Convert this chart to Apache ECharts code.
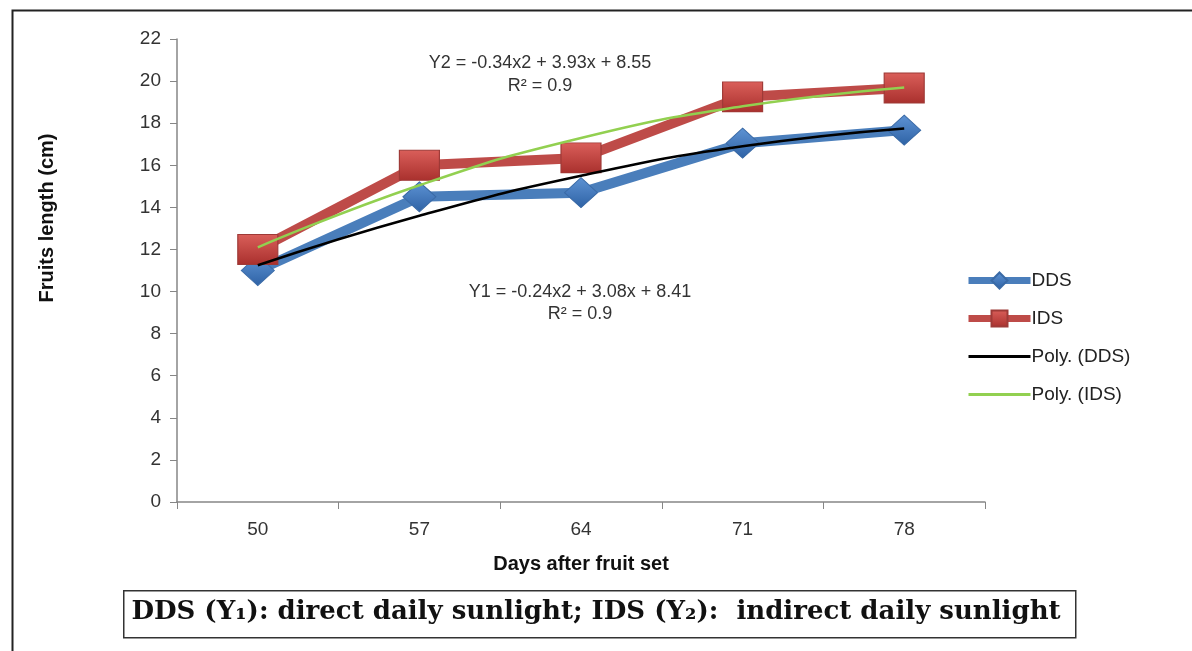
<!DOCTYPE html>
<html><head><meta charset="utf-8">
<script src="https://cdn.jsdelivr.net/npm/echarts@6/dist/echarts.min.js"></script>
<style>html,body{margin:0;padding:0;background:#fff}#c{width:1192px;height:651px}</style>
</head><body><div id="c"></div>
<script>
const days = ['50', '57', '64', '71', '78'];
const dds = [11.0, 14.5, 14.7, 17.05, 17.67];
const ids = [12.0, 16.0, 16.35, 19.25, 19.67];
const polyDds = [11.25, 13.6, 15.5, 16.9, 17.75];
const polyIds = [12.1, 15.05, 17.3, 18.8, 19.7];
const yTicks = { min: 0, max: 22, interval: 2 };

const chart = echarts.init(document.getElementById('c'), null, { renderer: 'canvas' });
const font = 'Liberation Sans, Arial, sans-serif';
const blueGrad = new echarts.graphic.LinearGradient(0, 0, 0, 1, [{ offset: 0, color: '#5E93D4' }, { offset: 1, color: '#2E62A5' }]);
const redGrad = new echarts.graphic.LinearGradient(0, 0, 0, 1, [{ offset: 0, color: '#DA5F5A' }, { offset: 1, color: '#A9302D' }]);
chart.setOption({
  animation: false,
  backgroundColor: '#fff',
  grid: { left: 177, right: 207, top: 39, bottom: 149 },
  legend: {
    orient: 'vertical', left: 960, top: 266, itemGap: 19,
    itemWidth: 62, itemHeight: 20,
    textStyle: { fontFamily: font, fontSize: 19, color: '#222', padding: [0, 0, 0, -4] },
    data: [
      { name: 'DDS', lineStyle: { width: 7 } },
      { name: 'IDS', lineStyle: { width: 7 } },
      { name: 'Poly. (DDS)', itemStyle: { opacity: 0 }, lineStyle: { width: 3 } },
      { name: 'Poly. (IDS)', itemStyle: { opacity: 0 }, lineStyle: { width: 3 } }
    ]
  },
  xAxis: {
    type: 'category', data: days, boundaryGap: true,
    name: 'Days after fruit set', nameLocation: 'middle', nameGap: 52,
    nameTextStyle: { fontFamily: font, fontSize: 20, fontWeight: 'bold', color: '#111' },
    axisLine: { lineStyle: { color: '#868686', width: 1.5 } },
    axisTick: { show: true, alignWithLabel: false, length: 7, lineStyle: { color: '#868686' } },
    axisLabel: { fontFamily: font, fontSize: 19, color: '#333', margin: 18 }
  },
  yAxis: {
    type: 'value', min: yTicks.min, max: yTicks.max, interval: yTicks.interval,
    splitLine: { show: false },
    axisLine: { show: true, lineStyle: { color: '#868686', width: 1.5 } },
    axisTick: { show: true, length: 7, lineStyle: { color: '#868686' } },
    axisLabel: { fontFamily: font, fontSize: 19, color: '#333', margin: 16 }
  },
  graphic: [
    { type: 'rect', left: 10, top: 8, shape: { width: 1250, height: 700 }, style: { fill: 'none', stroke: '#222', lineWidth: 2 }, z: 0, silent: true },
    { type: 'text', x: 47, y: 218, rotation: Math.PI / 2, style: { text: 'Fruits length (cm)', fontFamily: font, fontSize: 20, fontWeight: 'bold', fill: '#111', align: 'center', verticalAlign: 'middle' } },
    { type: 'text', x: 540, y: 63, style: { text: 'Y2 = -0.34x2 + 3.93x + 8.55', fontFamily: font, fontSize: 18, fill: '#333', align: 'center', verticalAlign: 'middle' } },
    { type: 'text', x: 540, y: 86, style: { text: 'R² = 0.9', fontFamily: font, fontSize: 18, fill: '#333', align: 'center', verticalAlign: 'middle' } },
    { type: 'text', x: 580, y: 292, style: { text: 'Y1 = -0.24x2 + 3.08x + 8.41', fontFamily: font, fontSize: 18, fill: '#333', align: 'center', verticalAlign: 'middle' } },
    { type: 'text', x: 580, y: 314, style: { text: 'R² = 0.9', fontFamily: font, fontSize: 18, fill: '#333', align: 'center', verticalAlign: 'middle' } },
    { type: 'rect', left: 123, top: 590, shape: { width: 952, height: 47 }, style: { fill: '#fff', stroke: '#333', lineWidth: 1.5 } },
    { type: 'text', x: 596, y: 612, style: { text: 'DDS (Y\u2081): direct daily sunlight; IDS (Y\u2082):  indirect daily sunlight', fontFamily: 'DejaVu Serif, Liberation Serif, serif', fontSize: 26, fontWeight: 'bold', fill: '#111', align: 'center', verticalAlign: 'middle' } }
  ],
  series: [
    {
      name: 'DDS', type: 'line', data: dds, symbol: 'diamond', symbolSize: [33, 30],
      lineStyle: { color: '#4A7EBB', width: 10 },
      itemStyle: { color: blueGrad, borderColor: '#3A6AA6', borderWidth: 1 },
      color: '#4A7EBB', z: 2
    },
    {
      name: 'IDS', type: 'line', data: ids, symbol: 'rect', symbolSize: [40, 30],
      lineStyle: { color: '#BE4B48', width: 10 },
      itemStyle: { color: redGrad, borderColor: '#9E3A37', borderWidth: 1 },
      color: '#BE4B48', z: 2
    },
    {
      name: 'Poly. (DDS)', type: 'line', data: polyDds, smooth: true, symbol: 'none',
      lineStyle: { color: '#000', width: 2.5 }, itemStyle: { color: '#000' }, z: 3
    },
    {
      name: 'Poly. (IDS)', type: 'line', data: polyIds, smooth: true, symbol: 'none',
      lineStyle: { color: '#92D050', width: 2.5 }, itemStyle: { color: '#92D050' }, z: 3
    }
  ]
});
</script></body></html>
